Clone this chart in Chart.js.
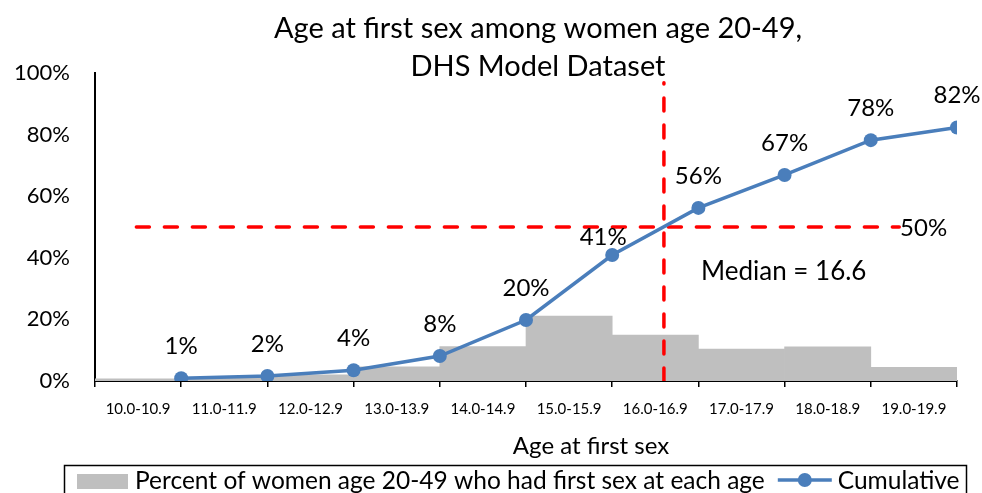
<!DOCTYPE html>
<html><head><meta charset="utf-8">
<script src="https://cdn.jsdelivr.net/npm/chart.js@4/dist/chart.umd.min.js"></script>
<style>html,body{margin:0;padding:0;background:#fff}#wrap{width:982px;height:493px;position:relative}</style>
</head><body><div id="wrap"><canvas id="c" width="982" height="493"></canvas></div>
<script>
const categories = ['10.0-10.9','11.0-11.9','12.0-12.9','13.0-13.9','14.0-14.9','15.0-15.9','16.0-16.9','17.0-17.9','18.0-18.9','19.0-19.9'];
const percentAtAge = [0.7, 1.0, 2.0, 4.6, 11.2, 21.1, 14.9, 10.4, 11.1, 4.4];
const cumulative = [0.9, 1.6, 3.5, 8.1, 19.8, 40.9, 56.2, 66.9, 78.2, 82.3];
const yTicks = [0, 20, 40, 60, 80, 100];
const medianAge = 16.6;
const medianPct = 50;
const titleLines = ['Age at first sex among women age 20-49,', 'DHS Model Dataset'];
const xTitle = 'Age at first sex';
const medianText = 'Median = 16.6';
const legendLabels = ['Percent of women age 20-49 who had first sex at each age', 'Cumulative'];

const FONT = 'Lato, "Open Sans", sans-serif';
const BLUE = '#4A7EBB';
const GRAY = '#BFBFBF';
const RED = '#FF0000';
const startAge = parseFloat(categories[0]);

const overlay = {
  id: 'overlay',
  afterDatasetsDraw(chart) {
    const ctx = chart.ctx;
    const x2 = chart.scales.x2, y = chart.scales.y;
    ctx.save();
    ctx.fillStyle = '#000';
    ctx.font = '24px ' + FONT;
    ctx.textAlign = 'center';
    ctx.textBaseline = 'middle';
    const meta = chart.getDatasetMeta(1);
    meta.data.forEach((pt, i) => {
      let dx = 0, dy = -32;
      if (i === 5) { dx = -9; dy = -18; }
      ctx.fillText(Math.round(cumulative[i]) + '%', pt.x + dx, pt.y + dy);
    });
    ctx.textAlign = 'left';
    ctx.fillText(medianPct + '%', x2.getPixelForValue(9.34), y.getPixelForValue(medianPct) + 1);
    ctx.font = '26px ' + FONT;
    ctx.fillText(medianText, x2.getPixelForValue(7.03), y.getPixelForValue(35.5));
    ctx.restore();
  },
  afterDraw(chart) {
    const ctx = chart.ctx;
    ctx.save();
    ctx.fillStyle = '#000';
    ctx.textAlign = 'center';
    ctx.textBaseline = 'middle';
    ctx.font = '29px ' + FONT;
    ctx.fillText(titleLines[0], 538, 29);
    ctx.fillText(titleLines[1], 538, 67);
    ctx.font = '24px ' + FONT;
    ctx.fillText(xTitle, 591, 446);
    // legend
    ctx.strokeStyle = '#000';
    ctx.lineWidth = 1.5;
    ctx.strokeRect(64.5, 465.5, 902, 40);
    ctx.fillStyle = GRAY;
    ctx.fillRect(77, 474, 51, 15);
    ctx.fillStyle = '#000';
    ctx.textAlign = 'left';
    ctx.font = '24.5px ' + FONT;
    let x = 135;
    ctx.fillText(legendLabels[0], x, 481);
    x += ctx.measureText(legendLabels[0]).width + 13;
    ctx.strokeStyle = BLUE;
    ctx.lineWidth = 3.5;
    ctx.beginPath(); ctx.moveTo(x, 480); ctx.lineTo(x + 54, 480); ctx.stroke();
    ctx.fillStyle = BLUE;
    ctx.beginPath(); ctx.arc(x + 27, 480, 7, 0, Math.PI * 2); ctx.fill();
    ctx.fillStyle = '#000';
    ctx.fillText(legendLabels[1], x + 60, 481);
    ctx.restore();
  }
};

new Chart(document.getElementById('c'), {
  type: 'bar',
  data: {
    labels: categories,
    datasets: [
      { type: 'bar', label: legendLabels[0], data: percentAtAge, backgroundColor: GRAY,
        barPercentage: 1, categoryPercentage: 1, grouped: false, xAxisID: 'x', order: 3 },
      { type: 'line', label: legendLabels[1], data: cumulative.map((v, i) => ({ x: i + 1, y: v })),
        borderColor: BLUE, backgroundColor: BLUE, borderWidth: 3.5, pointRadius: 7, pointBorderWidth: 0,
        pointBackgroundColor: BLUE, xAxisID: 'x2', order: 1, tension: 0 },
      { type: 'line', label: 'median-v', data: [{ x: medianAge - startAge, y: 0 }, { x: medianAge - startAge, y: 96.8 }],
        borderColor: RED, borderWidth: 3.5, borderDash: [13, 14], borderCapStyle: 'round', pointRadius: 0,
        xAxisID: 'x2', order: 2 },
      { type: 'line', label: 'median-h', data: [{ x: 0.48, y: medianPct }, { x: 9.33, y: medianPct }],
        borderColor: RED, borderWidth: 3.5, borderDash: [13, 15], borderCapStyle: 'round', pointRadius: 0,
        xAxisID: 'x2', order: 2 }
    ]
  },
  options: {
    responsive: false, animation: false, devicePixelRatio: 1,
    layout: { padding: { top: 73, right: 25, left: 0, bottom: 0 } },
    plugins: { legend: { display: false }, tooltip: { enabled: false }, title: { display: false } },
    scales: {
      x: {
        type: 'category', offset: true, position: 'bottom',
        grid: { offset: true, drawOnChartArea: false, drawTicks: true, tickLength: 6, color: '#000', lineWidth: 1.5 },
        border: { color: '#000', width: 2 },
        ticks: { color: '#000', font: { family: FONT, size: 15 }, padding: 13, maxRotation: 0, autoSkip: false },
        afterFit: s => { s.height = 112; }
      },
      x2: { type: 'linear', min: 0, max: categories.length, display: false, offset: false },
      y: {
        min: yTicks[0], max: yTicks[yTicks.length - 1],
        afterBuildTicks: s => { s.ticks = yTicks.map(v => ({ value: v })); },
        grid: { display: false, drawTicks: false },
        border: { color: '#000', width: 2 },
        ticks: { color: '#000', font: { family: FONT, size: 22 }, padding: 25, callback: v => v + '%' },
        afterFit: s => { s.width = 95; }
      }
    }
  },
  plugins: [overlay]
});
</script></body></html>
